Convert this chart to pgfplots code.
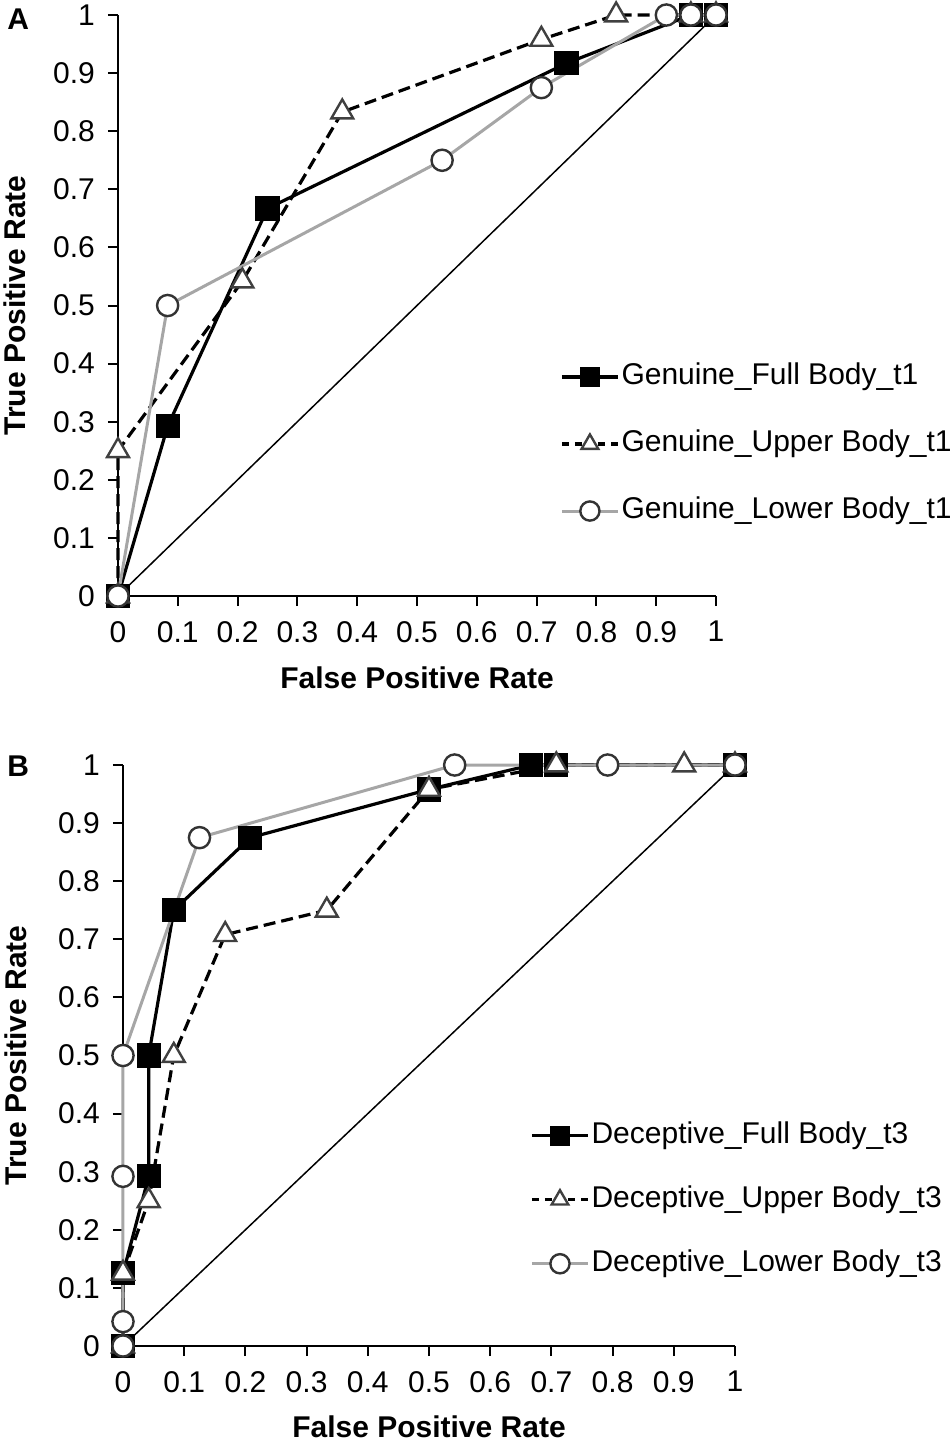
\documentclass[border=0pt]{standalone}
\usepackage{fontspec}
\setmainfont{Liberation Sans}
\usepackage{pgfplots}
\pgfplotsset{compat=1.18}
\definecolor{lgray}{HTML}{A6A6A6}
\definecolor{mgray}{HTML}{404040}
\pgfplotsset{
  rocstyle/.style={
    scale only axis, height=290.5pt,
    xmin=0, xmax=1, ymin=0, ymax=1,
    axis x line=bottom, axis y line=left,
    axis line style={-, line width=1pt},
    tick align=outside, major tick length=5pt,
    every tick/.style={black, line width=1pt},
    xtick={0,0.1,0.2,0.3,0.4,0.5,0.6,0.7,0.8,0.9,1},
    ytick={0,0.1,0.2,0.3,0.4,0.5,0.6,0.7,0.8,0.9,1},
    clip=false,
    tick label style={font=\fontsize{15}{18}\selectfont},
    yticklabel style={xshift=-3pt},
    xticklabel style={yshift=-4pt},
    /pgf/number format/assume math mode=true,
    label style={font=\fontsize{15}{18}\selectfont\bfseries},
    legend style={draw=none, fill=none, font=\fontsize{15}{18}\selectfont, anchor=north west,
      inner sep=0pt, nodes={inner sep=1pt, text height=11pt, text depth=3.5pt}},
    legend cell align=left,
    legend image code/.code={
      \draw (0pt,0pt) -- (14pt,0pt);
      \draw (28pt,0pt) -- (14pt,0pt);
      \draw[mark size=4.8pt] plot coordinates {(14pt,0pt)};},
  },
  fullS/.style={black, line width=1.6pt, mark=square*, mark size=5.8pt, mark options={solid, fill=black, draw=black, line width=0.5pt}},
  upperS/.style={black, line width=1.6pt, dash pattern=on 6pt off 3pt, mark=triangle*, mark size=6.3pt, mark options={solid, fill=white, draw=mgray, line width=1.2pt},
    legend image post style={dash pattern=on 3.5pt off 3pt}},
  lowerS/.style={lgray, line width=1.5pt, mark=*, mark size=5.3pt, mark options={solid, fill=white, draw=black!80, line width=1.2pt}},
}
\begin{document}
\begin{tikzpicture}
\useasboundingbox (0,0) rectangle (476pt,-721pt);
\node[anchor=north west, inner sep=0pt, font=\fontsize{15}{18}\selectfont\bfseries] at (3.5pt,-4pt) {A};
\node[anchor=north west, inner sep=0pt, font=\fontsize{15}{18}\selectfont\bfseries] at (3.5pt,-377.5pt) {B};
% Panel A
\begin{axis}[rocstyle, width=299pt, at={(59pt,-298pt)}, anchor=south west,
  xlabel={False Positive Rate}, ylabel={True Positive Rate},
  xlabel style={at={(axis description cs:0.5,-0.141)}, anchor=center},
  ylabel style={at={(axis description cs:-0.172,0.5)}, anchor=center, rotate=0},
  legend style={at={(axis description cs:0.739,0.406)}, row sep=17pt}]
\addplot[black, line width=0.75pt, forget plot] coordinates {(0,0) (1,1)};
\addplot[fullS] coordinates {(0,0) (0.083,0.292) (0.25,0.667) (0.75,0.917) (0.958,1) (1,1)};
\addlegendentry{Genuine\_Full Body\_t1}
\addplot[upperS] coordinates {(0,0) (0,0.25) (0.208,0.542) (0.375,0.833) (0.708,0.958) (0.833,1) (0.958,1) (1,1)};
\addlegendentry{Genuine\_Upper Body\_t1}
\addplot[lowerS] coordinates {(0,0) (0.083,0.5) (0.542,0.75) (0.708,0.875) (0.917,1) (0.958,1) (1,1)};
\addlegendentry{Genuine\_Lower Body\_t1}
\end{axis}
% Panel B
\begin{axis}[rocstyle, width=306pt, at={(61.5pt,-673pt)}, anchor=south west,
  xlabel={False Positive Rate}, ylabel={True Positive Rate},
  xlabel style={at={(axis description cs:0.5,-0.139)}, anchor=center},
  ylabel style={at={(axis description cs:-0.176,0.5)}, anchor=center, rotate=0},
  legend style={at={(axis description cs:0.665,0.391)}, row sep=15.5pt}]
\addplot[black, line width=0.75pt, forget plot] coordinates {(0,0) (1,1)};
\addplot[fullS] coordinates {(0,0) (0,0.125) (0.042,0.292) (0.042,0.5) (0.083,0.75) (0.208,0.875) (0.5,0.958) (0.667,1) (0.708,1) (1,1)};
\addlegendentry{Deceptive\_Full Body\_t3}
\addplot[upperS] coordinates {(0,0) (0,0.125) (0.042,0.25) (0.083,0.5) (0.167,0.708) (0.333,0.75) (0.5,0.958) (0.708,1) (0.917,1) (1,1)};
\addlegendentry{Deceptive\_Upper Body\_t3}
\addplot[lowerS] coordinates {(0,0) (0,0.042) (0,0.292) (0,0.5) (0.125,0.875) (0.542,1) (0.792,1) (1,1)};
\addlegendentry{Deceptive\_Lower Body\_t3}
\end{axis}
\end{tikzpicture}
\end{document}
